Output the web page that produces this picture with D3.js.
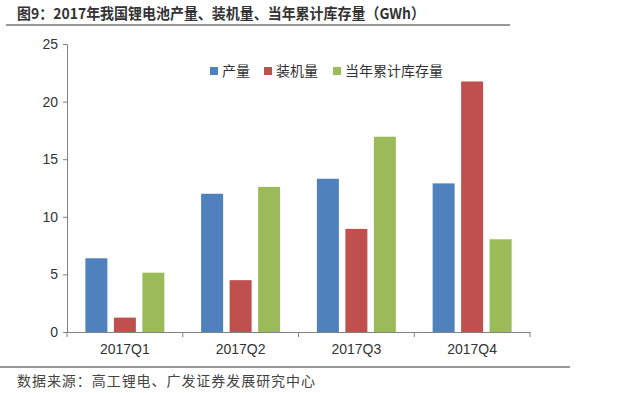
<!DOCTYPE html>
<html>
<head>
<meta charset="utf-8">
<script src="https://cdn.jsdelivr.net/npm/d3@7"></script>
<style>
  body { margin: 0; background: #fff; }
  svg { display: block; }
</style>
</head>
<body>
<svg id="canvas" width="640" height="393"></svg>
<script>
// chart values
let quarters = ['2017Q1', '2017Q2', '2017Q3', '2017Q4'];
let seriesNames = ['产量', '装机量', '当年累计库存量'];
let production = [6.4, 12.0, 13.3, 12.9];
let installed = [1.25, 4.5, 8.95, 21.75];
let inventory = [5.15, 12.6, 16.95, 8.05];
let yTicks = [0, 5, 10, 15, 20, 25];
let colors = ['#4F81BD', '#C0504D', '#9BBB59'];

let allSeries = [production, installed, inventory];

let canvas = d3.select('#canvas');
let cjk = '"Noto Sans CJK SC", sans-serif';
let latin = '"Liberation Sans", Arial, sans-serif';

// title + rule under it
canvas.append('text')
    .attr('x', 17)
    .attr('y', 19)
    .attr('textLength', 408)
    .attr('lengthAdjust', 'spacingAndGlyphs')
    .style('font-family', cjk)
    .style('font-weight', 'bold')
    .style('font-size', '15px')
    .attr('fill', '#333')
    .text('图9：2017年我国锂电池产量、装机量、当年累计库存量（GWh）');

canvas.append('line')
    .attr('x1', 6).attr('x2', 510)
    .attr('y1', 25).attr('y2', 25)
    .attr('stroke', '#333').attr('stroke-width', 1);

// scales
let x = d3.scaleBand()
    .domain(quarters)
    .range([67, 530]);

let xInner = d3.scaleBand()
    .domain(d3.range(seriesNames.length))
    .range([0, x.bandwidth()])
    .paddingInner(0.228)
    .paddingOuter(0.645);

let y = d3.scaleLinear()
    .domain([0, 25])
    .range([332, 44]);

// bars
let groups = canvas.selectAll('g.quarter')
    .data(quarters)
    .enter()
    .append('g')
    .attr('class', 'quarter')
    .attr('transform', d => `translate(${x(d)},0)`);

groups.selectAll('rect')
    .data((q, qi) => allSeries.map((s, si) => ({si: si, v: s[qi]})))
    .enter()
    .append('rect')
    .attr('x', d => xInner(d.si))
    .attr('width', xInner.bandwidth())
    .attr('y', d => y(d.v))
    .attr('height', d => y(0) - y(d.v))
    .attr('fill', d => colors[d.si]);

// y axis
let yAxis = canvas.append('g')
    .attr('transform', 'translate(67,0)')
    .call(d3.axisLeft(y).tickValues(yTicks).tickSize(4).tickPadding(5).tickSizeOuter(0));
yAxis.select('.domain').attr('stroke', '#808080');
yAxis.selectAll('.tick line').attr('stroke', '#808080');
yAxis.selectAll('.tick text')
    .style('font-family', latin)
    .style('font-size', '14px')
    .attr('fill', '#333');

// x axis
let xAxis = canvas.append('g')
    .attr('transform', 'translate(0,332)')
    .call(d3.axisBottom(x).tickSize(0).tickPadding(12).tickSizeOuter(0));
xAxis.select('.domain').attr('stroke', '#808080');
xAxis.selectAll('.tick text')
    .style('font-family', latin)
    .style('font-size', '14px')
    .attr('fill', '#333');

// tick marks between categories
let boundaries = quarters.map(q => x(q)).concat([x.range()[1]]);
canvas.selectAll('line.xtick')
    .data(boundaries)
    .enter()
    .append('line')
    .attr('class', 'xtick')
    .attr('x1', d => d).attr('x2', d => d)
    .attr('y1', 332).attr('y2', 337)
    .attr('stroke', '#808080');

// legend
let legendX = [210, 264, 333];
let legend = canvas.selectAll('g.legend')
    .data(seriesNames)
    .enter()
    .append('g')
    .attr('class', 'legend')
    .attr('transform', (d, i) => `translate(${legendX[i]},71)`);

legend.append('rect')
    .attr('x', 0).attr('y', -4)
    .attr('width', 8).attr('height', 8)
    .attr('fill', (d, i) => colors[i]);

legend.append('text')
    .attr('x', 12)
    .attr('y', 5)
    .style('font-family', cjk)
    .style('font-size', '14px')
    .attr('fill', '#333')
    .text(d => d);

// footer
canvas.append('line')
    .attr('x1', 0).attr('x2', 570)
    .attr('y1', 367).attr('y2', 367)
    .attr('stroke', '#333').attr('stroke-width', 1);

canvas.append('text')
    .attr('x', 17)
    .attr('y', 386)
    .attr('textLength', 298)
    .attr('lengthAdjust', 'spacing')
    .style('font-family', cjk)
    .style('font-size', '14px')
    .attr('fill', '#444')
    .text('数据来源：高工锂电、广发证券发展研究中心');
</script>
</body>
</html>
